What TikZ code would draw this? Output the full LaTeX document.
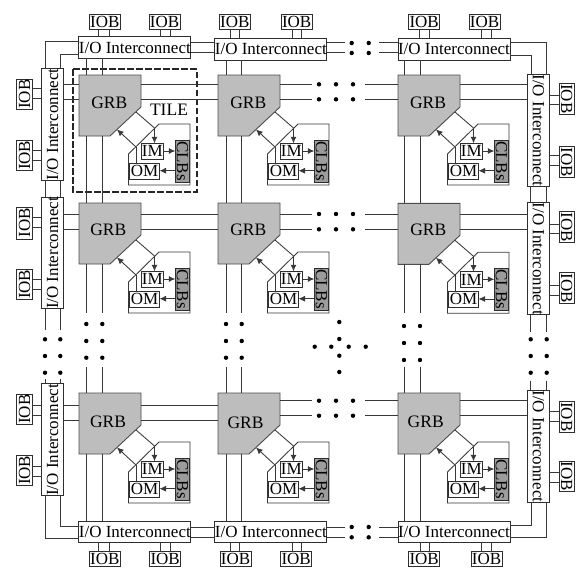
\documentclass[tikz,border=0pt]{standalone}
\usepackage{fontspec}
\setmainfont{Liberation Serif}
\usetikzlibrary{arrows.meta,calc}
\definecolor{grbgray}{HTML}{BDBDBD}
\definecolor{clbgray}{HTML}{9C9C9C}
\tikzset{
  wire/.style={line width=0.85pt,draw=black!78},
  arr/.style={wire,-{Latex[length=6.5pt,width=6pt]}},
  boxn/.style={draw=black!82,line width=0.9pt,fill=white,inner sep=0pt,outer sep=0pt,font=\fontsize{17}{17}\selectfont},
  clbn/.style={boxn,fill=clbgray},
  anchorbox/.style={inner sep=0pt,outer sep=0pt},
  plain/.style={inner sep=0pt,outer sep=0pt,font=\fontsize{17.5}{17.5}\selectfont},
  grbshape/.style={fill=grbgray,draw=black!70,line width=0.9pt,line join=miter},
  tileframe/.style={draw=black!85,line width=1.7pt,dash pattern=on 6.2pt off 2.8pt},
  dotn/.style={fill=black}
}
% [style] name x0 y0 x1 y1 text
\newcommand\mybox[6][]{%
  \pgfmathsetmacro\myCx{(#3+#5)/2}%
  \pgfmathsetmacro\myCy{(#4+#6)/2}%
  \pgfmathsetmacro\myW{#5-#3}%
  \pgfmathsetmacro\myH{#6-#4}%
  \node[boxn,#1,minimum width=\myW pt,minimum height=\myH pt] (#2) at (\myCx,\myCy)}
\newcommand\hlink[3]{\draw[wire] (#2 |- 0,#1) -- (#3 |- 0,#1);}
\newcommand\vlink[3]{\draw[wire] (#1,0 |- #2) -- (#1,0 |- #3);}
\newcommand\rotL[1]{\rotatebox{90}{#1}}
\newcommand\rotR[1]{\rotatebox{-90}{#1}}
% name x y textdx textdy
\newcommand\tile[5]{%
  \begin{scope}[shift={(#2,#3)}]
    \draw[wire,fill=white] (49.5,79) -- (80,49) -- (111,49) -- (111,110) -- (49.5,110) -- cycle;
    \draw[grbshape] (0,0) -- (62,0) -- (62,32) -- (31,61) -- (0,61) -- cycle;
    \node[anchorbox,minimum width=62pt,minimum height=61pt] (#1g) at (31,30.5) {};
    \node[plain] (#1t) at (#4,#5) {GRB};
    \mybox{#1im}{62.3}{68.3}{84.3}{84}{IM};
    \mybox{#1om}{50.5}{88}{80.5}{104}{OM};
    \mybox[clbn]{#1clb}{96.3}{65}{110.5}{107}{\rotR{CLBs}};
    \coordinate (#1a) at (57,37);
    \coordinate (#1b) at (75.5,53);
    \coordinate (#1c) at (57,72);
    \coordinate (#1d) at (38,54.5);
    \draw[wire] (#1a) -- (#1b);
    \draw[arr] (#1b) -- (#1b |- #1im.north);
    \draw[arr] (#1c) -- (#1d);
    \draw[wire] (#1c) -- (#1c |- #1om.north);
    \draw[arr] (#1im.east |- 0,76) -- (#1clb.west |- 0,76);
    \draw[arr] (#1clb.west |- 0,95.7) -- (#1om.east |- 0,95.7);
  \end{scope}}
\begin{document}
\begin{tikzpicture}[x=1pt,y=-1pt]
\useasboundingbox (0,0) rectangle (579,568);
% tiles
\tile{t11}{79}{75}{30.3}{27.7}
\tile{t21}{218}{75}{30.3}{28}
\tile{t31}{398}{75}{30}{28}
\tile{t12}{79}{203}{29.3}{26.3}
\tile{t22}{218}{203}{30.3}{26.3}
\tile{t32}{398}{203.3}{30.3}{26.7}
\tile{t13}{79}{393}{29}{28.7}
\tile{t23}{218}{393}{27.5}{29.3}
\tile{t33}{398}{393}{27.7}{28.7}
\node[plain] (tilelabel) at (169,110) {TILE};
\draw[tileframe] (72.7,69.3) rectangle (196.7,191.7);
% I/O interconnects
\mybox{iot1}{79}{36.7}{190.7}{58.3}{I/O Interconnect};
\mybox{iot2}{215}{38}{326.7}{60}{I/O Interconnect};
\mybox{iot3}{398}{38}{510}{60}{I/O Interconnect};
\mybox{iob1}{79}{521}{190.7}{542.5}{I/O Interconnect};
\mybox{iob2}{215}{521}{326.7}{542.5}{I/O Interconnect};
\mybox{iob3}{398}{521}{510}{542.5}{I/O Interconnect};
\mybox{iol1}{41.7}{69}{63.3}{180}{\rotL{I/O Interconnect}};
\mybox{iol2}{41.7}{197.3}{63.3}{308.7}{\rotL{I/O Interconnect}};
\mybox{iol3}{41.7}{384.3}{63.3}{495.3}{\rotL{I/O Interconnect}};
\mybox{ior1}{527.7}{75}{549.3}{186}{\rotR{I/O Interconnect}};
\mybox{ior2}{527.7}{203.3}{549.3}{314.3}{\rotR{I/O Interconnect}};
\mybox{ior3}{527.7}{390.7}{549.3}{502}{\rotR{I/O Interconnect}};
% IOBs top
\mybox{a1}{89.3}{14}{120.3}{29}{IOB};
\mybox{a2}{149}{14}{180}{29}{IOB};
\mybox{a3}{219.3}{14}{250.3}{29}{IOB};
\mybox{a4}{281}{14}{312.3}{29}{IOB};
\mybox{a5}{408.7}{14}{439.7}{29}{IOB};
\mybox{a6}{469}{14}{500}{29}{IOB};
% IOBs bottom
\mybox{b1}{89.3}{551.7}{120.3}{566.7}{IOB};
\mybox{b2}{149.7}{551.7}{180.7}{566.7}{IOB};
\mybox{b3}{220}{551.7}{251}{566.7}{IOB};
\mybox{b4}{280.7}{551.7}{311.7}{566.7}{IOB};
\mybox{b5}{408.7}{551.7}{439.7}{566.7}{IOB};
\mybox{b6}{471}{551.7}{502}{566.7}{IOB};
% IOBs left
\mybox{c1}{16.7}{79}{32.3}{109.3}{\rotL{IOB}};
\mybox{c2}{16.7}{140}{32.3}{170.7}{\rotL{IOB}};
\mybox{c3}{16.7}{207}{32.3}{239}{\rotL{IOB}};
\mybox{c4}{16.7}{269}{32.3}{299.7}{\rotL{IOB}};
\mybox{c5}{16.7}{394}{32.3}{424.3}{\rotL{IOB}};
\mybox{c6}{16.7}{455}{32.3}{485.7}{\rotL{IOB}};
% IOBs right
\mybox{d1}{559}{83.3}{574.3}{114.3}{\rotR{IOB}};
\mybox{d2}{559}{146.7}{574.3}{177.3}{\rotR{IOB}};
\mybox{d3}{559}{211.7}{574.3}{242.7}{\rotR{IOB}};
\mybox{d4}{559}{272.7}{574.3}{303.3}{\rotR{IOB}};
\mybox{d5}{559}{401.7}{574.3}{432}{\rotR{IOB}};
\mybox{d6}{559}{461}{574.3}{491.7}{\rotR{IOB}};
% IOB stems top
\foreach \x/\p/\q in {98.7/a1/iot1,109/a1/iot1,160.7/a2/iot1,170.7/a2/iot1,230.3/a3/iot2,239.7/a3/iot2,292.3/a4/iot2,301.7/a4/iot2,419.3/a5/iot3,429.3/a5/iot3,481.7/a6/iot3,491.3/a6/iot3}
  {\vlink{\x}{\p.south}{\q.north}}
% IOB stems bottom
\foreach \x/\p/\q in {98.7/b1/iob1,109/b1/iob1,160.7/b2/iob1,170.7/b2/iob1,230.3/b3/iob2,239.7/b3/iob2,292.3/b4/iob2,301.7/b4/iob2,420/b5/iob3,429.3/b5/iob3,481.7/b6/iob3,491.3/b6/iob3}
  {\vlink{\x}{\q.south}{\p.north}}
% IOB stems left
\foreach \y/\p/\q in {88.3/c1/iol1,98.3/c1/iol1,150/c2/iol1,160/c2/iol1,217.3/c3/iol2,227.3/c3/iol2,279/c4/iol2,289/c4/iol2,405/c5/iol3,415/c5/iol3,466/c6/iol3,476/c6/iol3}
  {\hlink{\y}{\p.east}{\q.west}}
% IOB stems right
\foreach \y/\p/\q in {95/d1/ior1,104/d1/ior1,155.7/d2/ior1,165.7/d2/ior1,224/d3/ior2,233.3/d3/ior2,285/d4/ior2,295/d4/ior2,411.7/d5/ior3,421/d5/ior3,472.7/d6/ior3,482.7/d6/ior3}
  {\hlink{\y}{\q.east}{\p.west}}
% I/O to I/O, horizontal
\foreach \y/\p/\q in {42.7/iot1/iot2,52.7/iot1/iot2,527/iob1/iob2,537.3/iob1/iob2}
  {\hlink{\y}{\p.east}{\q.west}}
% GRB row links
\foreach \y/\p/\q in {84.3/iol1/t11g,99.3/iol1/t11g,84.3/t11g/t21g,99.3/t11g/t21g,84.3/t31g/ior1,99.3/t31g/ior1,
  214/iol2/t12g,229.3/iol2/t12g,214/t12g/t22g,229.3/t12g/t22g,214/t32g/ior2,229.3/t32g/ior2,
  405/iol3/t13g,420/iol3/t13g,405/t13g/t23g,420/t13g/t23g,400.7/t33g/ior3,415.7/t33g/ior3}
  {\hlink{\y}{\p.east}{\q.west}}
% GRB column links
\foreach \x/\p/\q in {86.3/iot1/t11g,102.3/iot1/t11g,86.3/t11g/t12g,102.3/t11g/t12g,86.3/t13g/iob1,102.3/t13g/iob1,
  226/iot2/t21g,241.7/iot2/t21g,226/t21g/t22g,241.7/t21g/t22g,226/t23g/iob2,241.7/t23g/iob2,
  404/iot3/t31g,420/iot3/t31g,404/t31g/t32g,420/t31g/t32g,404/t33g/iob3,420/t33g/iob3,
  45/iol1/iol2,60.3/iol1/iol2,530.7/ior1/ior2,546.7/ior1/ior2}
  {\vlink{\x}{\p.south}{\q.north}}
% corners
\coordinate (cl1) at (45,41.7);
\coordinate (cl2) at (60.3,54);
\coordinate (cl3) at (45,538);
\coordinate (cl4) at (60.3,526.7);
\coordinate (cr1) at (546.7,42.3);
\coordinate (cr2) at (531,55);
\coordinate (cr3) at (546.7,537.7);
\coordinate (cr4) at (531,525.7);
\draw[wire] (iol1.north -| cl1) -- (cl1) -- (cl1 -| iot1.west);
\draw[wire] (iol1.north -| cl2) -- (cl2) -- (cl2 -| iot1.west);
\draw[wire] (iol3.south -| cl3) -- (cl3) -- (cl3 -| iob1.west);
\draw[wire] (iol3.south -| cl4) -- (cl4) -- (cl4 -| iob1.west);
\draw[wire] (ior1.north -| cr1) -- (cr1) -- (cr1 -| iot3.east);
\draw[wire] (ior1.north -| cr2) -- (cr2) -- (cr2 -| iot3.east);
\draw[wire] (ior3.south -| cr3) -- (cr3) -- (cr3 -| iob3.east);
\draw[wire] (ior3.south -| cr4) -- (cr4) -- (cr4 -| iob3.east);
% horizontal stubs toward dots
\foreach \n/\y/\p/\q in {a/84.3/t21g/t31g,b/99.3/t21g/t31g,c/214/t22g/t32g,d/229.3/t22g/t32g,e/400.7/t23g/t33g,f/415.7/t23g/t33g}{
  \coordinate (hl\n) at (311.7,\y);
  \coordinate (hr\n) at (365.3,\y);
  \draw[wire] (\p.east |- hl\n) -- (hl\n);
  \draw[wire] (hr\n) -- (\q.west |- hr\n);
}
\foreach \n/\y/\p/\q in {a/42.7/iot2/iot3,b/52.7/iot2/iot3,c/527/iob2/iob3,d/537.3/iob2/iob3}{
  \coordinate (il\n) at (345,\y);
  \coordinate (ir\n) at (379,\y);
  \draw[wire] (\p.east |- il\n) -- (il\n);
  \draw[wire] (ir\n) -- (\q.west |- ir\n);
}
% vertical stubs toward dots
\foreach \n/\x/\p/\q/\ya/\yb in {a/86.3/t12g/t13g/313/366.7,b/102.3/t12g/t13g/313/366.7,c/226/t22g/t23g/313/366.7,d/241.7/t22g/t23g/313/366.7,e/404/t32g/t33g/313.3/366.7,f/420/t32g/t33g/313.3/366.7,g/45/iol2/iol3/330/379,h/60.3/iol2/iol3/330/379,i/530.7/ior2/ior3/332/380.7,j/546.7/ior2/ior3/332/380.7}{
  \coordinate (vt\n) at (\x,\ya);
  \coordinate (vb\n) at (\x,\yb);
  \draw[wire] (\p.south -| vt\n) -- (vt\n);
  \draw[wire] (vb\n) -- (\q.north -| vb\n);
}
% dots
\foreach \y in {84.3,99.3,214,229.3,400.7,415.7}
  \foreach \x in {319,336,353} {\fill[dotn] (\x,\y) circle (2.2pt);}
\foreach \y in {43,53,527,537.3}
  \foreach \x in {351.7,368.7} {\fill[dotn] (\x,\y) circle (2.2pt);}
\foreach \y in {324,341,357.7}
  \foreach \x in {86.3,102.3,226,241.7} {\fill[dotn] (\x,\y) circle (2.2pt);}
\foreach \y in {326,343,360}
  \foreach \x in {404,420} {\fill[dotn] (\x,\y) circle (2.2pt);}
\foreach \y in {339.3,356,372.7}
  \foreach \x in {45,60.3,530.7,546.7} {\fill[dotn] (\x,\y) circle (2.2pt);}
\foreach \x in {314.7,331.3,348.7,365.7} {\fill[dotn] (\x,346.7) circle (2.2pt);}
\foreach \y in {322,339,355.7,372} {\fill[dotn] (339.3,\y) circle (2.2pt);}
\end{tikzpicture}
\end{document}
